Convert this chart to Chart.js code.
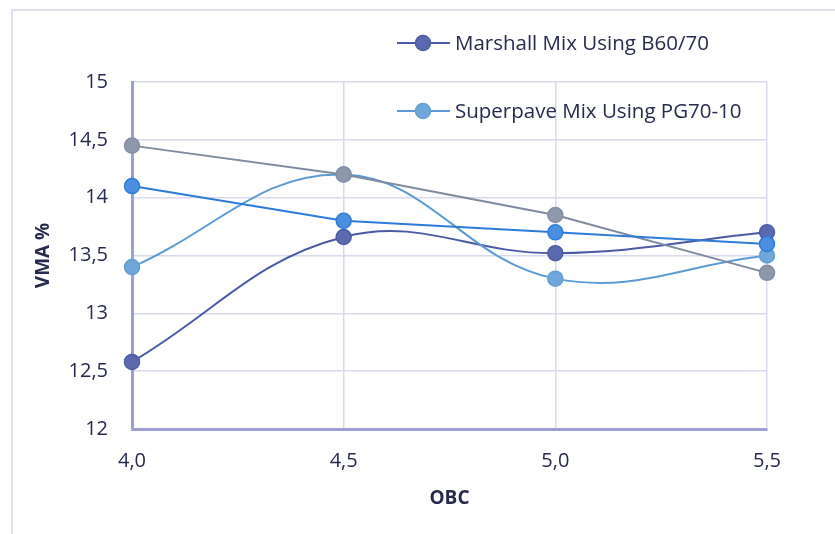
<!DOCTYPE html>
<html><head><meta charset="utf-8">
<script src="https://cdn.jsdelivr.net/npm/chart.js@4.4.0/dist/chart.umd.min.js"></script>
<style>html,body{margin:0;padding:0;background:#fff}#wrap{width:835px;height:534px;position:relative}</style>
</head><body><div id="wrap"><canvas id="c"></canvas></div>
<script>
// OBC (%) on the x axis, VMA (%) on the y axis
const obc = [4.0, 4.5, 5.0, 5.5];
const marshall = [12.58, 13.66, 13.52, 13.70];
const superpave = [13.40, 14.20, 13.30, 13.50];
const greySeries = [14.45, 14.20, 13.85, 13.35];
const blueSeries = [14.10, 13.80, 13.70, 13.60];
const seriesNames = ['Marshall Mix Using B60/70', 'Superpave Mix Using PG70-10'];
const xTitle = 'OBC';
const yTitle = 'VMA %';

const FONT = "'Open Sans', sans-serif";
const TEXT = '#262a4f';

const pts = vals => vals.map((v, i) => ({ x: obc[i], y: v }));
const comma = (v, d) => v.toFixed(d).replace('.', ',');

// frame around the whole figure
const framePlugin = {
  id: 'frame',
  beforeDraw(chart) {
    const ctx = chart.ctx;
    ctx.save();
    ctx.strokeStyle = '#d4d6ee';
    ctx.lineWidth = 1.5;
    ctx.strokeRect(12, 10, 900, 900);
    ctx.restore();
  }
};

// legend for the two named series, placed inside the plot's upper right
const legendPlugin = {
  id: 'legendBox',
  afterDatasetsDraw(chart) {
    const ctx = chart.ctx;
    const rows = [43, 111];
    ctx.save();
    rows.forEach((y, i) => {
      const ds = chart.data.datasets[i];
      ctx.strokeStyle = ds.borderColor;
      ctx.lineWidth = 2;
      ctx.beginPath(); ctx.moveTo(397, y); ctx.lineTo(450, y); ctx.stroke();
      ctx.fillStyle = ds.pointBackgroundColor;
      ctx.strokeStyle = ds.pointBorderColor;
      ctx.lineWidth = 1.5;
      ctx.beginPath(); ctx.arc(423, y, 7.5, 0, Math.PI * 2); ctx.fill(); ctx.stroke();
      ctx.fillStyle = TEXT;
      ctx.font = '20.5px ' + FONT;
      ctx.textBaseline = 'middle';
      ctx.textAlign = 'left';
      ctx.fillText(seriesNames[i], 455, y + 1);
    });
    ctx.restore();
  }
};

function series(label, vals, line, fill, edge, tension, order) {
  return {
    label, data: pts(vals), borderColor: line, borderWidth: 2,
    pointBackgroundColor: fill, pointBorderColor: edge, pointBorderWidth: 1.5,
    pointRadius: 7.5, tension, order, fill: false, clip: false
  };
}

new Chart(document.getElementById('c'), {
  type: 'line',
  data: {
    datasets: [
      series(seriesNames[0], marshall, '#4a5aa6', '#5b6aae', '#4d5ca3', 0.4, 3),
      series(seriesNames[1], superpave, '#5b9bd5', '#6fa7d8', '#629fd4', 0.4, 2),
      series('grey', greySeries, '#7f8ba0', '#8d98ab', '#838ea3', 0, 1),
      series('blue', blueSeries, '#2b7bd9', '#4a8fe0', '#2f7dd8', 0, 0)
    ]
  },
  options: {
    responsive: true, maintainAspectRatio: false, animation: false,
    layout: { padding: { left: 32, right: 68, top: 82, bottom: 0 } },
    plugins: { legend: { display: false }, tooltip: { enabled: false } },
    scales: {
      x: {
        type: 'linear', min: 4, max: 5.5,
        afterBuildTicks: s => { s.ticks = obc.map(v => ({ value: v })); },
        afterFit: s => { s.height = 105; },
        grid: { color: '#d9daf0', lineWidth: 1.5, drawTicks: false },
        border: { color: '#9da0d4', width: 3 },
        ticks: { color: TEXT, font: { family: FONT, size: 20 }, padding: 20, callback: v => comma(v, 1) },
        title: { display: true, text: xTitle, color: TEXT, font: { family: FONT, size: 19, weight: 'bold' }, padding: { top: 8, bottom: 24 } }
      },
      y: {
        min: 12, max: 15,
        ticks: { stepSize: 0.5, color: TEXT, font: { family: FONT, size: 20 }, padding: 24,
                 callback: v => Number.isInteger(v) ? String(v) : comma(v, 1) },
        afterFit: s => { s.width = 100; },
        grid: { color: '#d9daf0', lineWidth: 1.5, drawTicks: false },
        border: { color: '#9da0d4', width: 3 },
        title: { display: true, text: yTitle, color: TEXT, font: { family: FONT, size: 19, weight: 'bold' }, padding: { top: 0, bottom: 4 } }
      }
    }
  },
  plugins: [framePlugin, legendPlugin]
});
</script>
</body></html>
